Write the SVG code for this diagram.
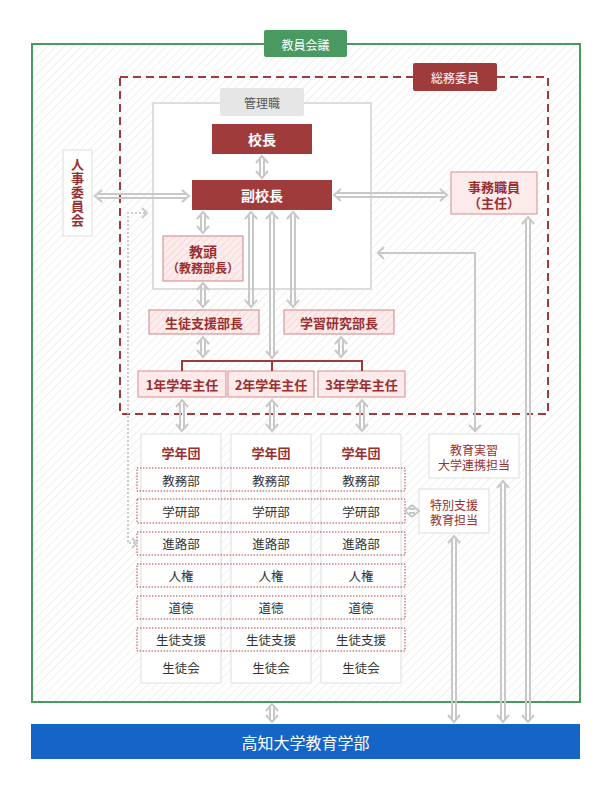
<svg xmlns="http://www.w3.org/2000/svg" width="610" height="790" viewBox="0 0 610 790">
<defs>
<pattern id="hatch" width="6" height="6" patternUnits="userSpaceOnUse" patternTransform="rotate(45)">
<rect width="6" height="6" fill="#ffffff"/>
<line x1="0" y1="0" x2="0" y2="6" stroke="#ededed" stroke-width="1.6"/>
</pattern>
<pattern id="phatch" width="5" height="5" patternUnits="userSpaceOnUse" patternTransform="rotate(45)">
<rect width="5" height="5" fill="#fcecec"/>
<line x1="0" y1="0" x2="0" y2="5" stroke="#f4d2d2" stroke-width="1.5"/>
</pattern>
</defs>
<style>
text{font-family:"Noto Sans CJK JP","Noto Sans",sans-serif;text-anchor:middle;dominant-baseline:central}
.dk{fill:#a03b3b}
.wt{fill:#ffffff}
.pink{fill:#fdeaea;stroke:#d48f8f;stroke-width:1}
.phat{fill:url(#phatch);stroke:#cf8585;stroke-width:1}
.plain{fill:#ffffff;stroke:#dddddd;stroke-width:1}
.dot{fill:none;stroke:#b04444;stroke-width:1;stroke-dasharray:1.5 1.5}
.arr{fill:none;stroke:#c8c8c8;stroke-width:2}
.tw{fill:#ffffff;font-weight:700;font-size:14px}
.tr{fill:#9a2f2f;font-weight:700;font-size:13px}
.tn{fill:#333333;font-size:12.5px}
.tm{fill:#9a2f2f;font-size:12px}
</style>

<g id="kyoin-kaigi">
<rect x="32" y="44" width="548" height="658" fill="url(#hatch)" stroke="#4a9961" stroke-width="2"/>
<rect x="264" y="30" width="83" height="27" rx="2" fill="#4a9961"/>
<text x="305.5" y="44" class="wt" font-size="12">教員会議</text>
</g>

<g id="somu-iin">
<rect x="120" y="77" width="428" height="337" fill="none" stroke="#a03b3b" stroke-width="2" stroke-dasharray="8 5"/>
<rect x="413" y="63" width="84" height="28" rx="2" fill="#a03b3b"/>
<text x="455" y="77" class="wt" font-size="12">総務委員</text>
</g>

<g id="kanrishoku">
<rect x="153" y="103" width="218" height="186" fill="#ffffff" stroke="#dddddd" stroke-width="2"/>
<rect x="220" y="88" width="84" height="28" rx="2" fill="#e6e6e6"/>
<text x="262" y="102" fill="#555555" font-size="12">管理職</text>
</g>

<g id="kocho">
<rect x="212" y="124" width="100" height="30" class="dk"/>
<text x="262" y="139" class="tw">校長</text>
</g>

<g id="fukukocho">
<rect x="192" y="180" width="140" height="30" class="dk"/>
<text x="262" y="195" class="tw">副校長</text>
</g>

<g id="jimu">
<rect x="451" y="172" width="86" height="42" class="pink"/>
<text class="tr"><tspan x="494" y="186">事務職員</tspan><tspan x="494" y="202">（主任）</tspan></text>
</g>

<g id="jinji">
<rect x="63" y="150" width="29" height="86" class="plain"/>
<text x="77.5" y="193" class="tr" style="writing-mode:vertical-rl" letter-spacing="1">人事委員会</text>
</g>

<g id="kyoto">
<rect x="163" y="236" width="80" height="45" class="phat"/>
<text class="tr"><tspan x="203" y="251" font-size="14">教頭</tspan><tspan x="203" y="267" font-size="12">（教務部長）</tspan></text>
</g>

<g id="seito-shien-bucho">
<rect x="149" y="310" width="110" height="24" class="phat"/>
<text x="204" y="322" class="tr">生徒支援部長</text>
</g>

<g id="gakushu-kenkyu-bucho">
<rect x="284" y="310" width="110" height="24" class="phat"/>
<text x="339" y="322" class="tr">学習研究部長</text>
</g>

<g id="shunin1">
<rect x="138" y="371" width="88" height="26" class="pink"/>
<text x="182" y="384" class="tr">1年学年主任</text>
</g>
<g id="shunin2">
<rect x="228" y="371" width="86" height="26" class="pink"/>
<text x="271" y="384" class="tr">2年学年主任</text>
</g>
<g id="shunin3">
<rect x="318" y="371" width="87" height="26" class="pink"/>
<text x="361.5" y="384" class="tr">3年学年主任</text>
</g>

<g id="gakunendan">
<rect x="141" y="434" width="80" height="249" class="plain"/>
<rect x="231" y="434" width="80" height="249" class="plain"/>
<rect x="321" y="434" width="80" height="249" class="plain"/>
<text x="181" y="452" class="tr">学年団</text>
<text x="271" y="452" class="tr">学年団</text>
<text x="361" y="452" class="tr">学年団</text>
</g>

<g id="bukai">
<rect x="137" y="468" width="268" height="23" class="dot"/>
<rect x="137" y="499" width="268" height="24" class="dot"/>
<rect x="137" y="532" width="268" height="23" class="dot"/>
<rect x="137" y="564" width="268" height="23" class="dot"/>
<rect x="137" y="596" width="268" height="23" class="dot"/>
<rect x="137" y="628" width="268" height="23" class="dot"/>
<text x="181" y="480" class="tn">教務部</text><text x="271" y="480" class="tn">教務部</text><text x="361" y="480" class="tn">教務部</text>
<text x="181" y="511" class="tn">学研部</text><text x="271" y="511" class="tn">学研部</text><text x="361" y="511" class="tn">学研部</text>
<text x="181" y="543" class="tn">進路部</text><text x="271" y="543" class="tn">進路部</text><text x="361" y="543" class="tn">進路部</text>
<text x="181" y="575" class="tn">人権</text><text x="271" y="575" class="tn">人権</text><text x="361" y="575" class="tn">人権</text>
<text x="181" y="607" class="tn">道徳</text><text x="271" y="607" class="tn">道徳</text><text x="361" y="607" class="tn">道徳</text>
<text x="181" y="639" class="tn">生徒支援</text><text x="271" y="639" class="tn">生徒支援</text><text x="361" y="639" class="tn">生徒支援</text>
<text x="181" y="667" class="tn">生徒会</text><text x="271" y="667" class="tn">生徒会</text><text x="361" y="667" class="tn">生徒会</text>
</g>

<g id="kyoiku-jisshu">
<rect x="429" y="434" width="90" height="44" class="plain"/>
<text class="tm"><tspan x="474" y="449">教育実習</tspan><tspan x="474" y="464">大学連携担当</tspan></text>
</g>

<g id="tokubetsu-shien">
<rect x="419" y="489" width="70" height="44" class="plain"/>
<text class="tm"><tspan x="454" y="504">特別支援</tspan><tspan x="454" y="519">教育担当</tspan></text>
</g>

<g id="kochi-univ">
<rect x="31" y="724" width="549" height="35" fill="#1565c6"/>
<text x="305.5" y="742" fill="#ffffff" font-size="16">高知大学教育学部</text>
</g>

<g id="connectors">
<path d="M182 371 V361 H362 V371 M272 361 V371" fill="none" stroke="#a03b3b" stroke-width="2"/>
<g class="arr">
<path d="M260 159 V175 M264 159 V175 M256 163 L262 156 L268 163 M256 171 L262 178 L268 171"/>
<path d="M201 215 V230 M205 215 V230 M197 219 L203 212 L209 219 M197 226 L203 233 L209 226"/>
<path d="M249 215 V304 M253 215 V304 M245 219 L251 212 L257 219 M245 300 L251 307 L257 300"/>
<path d="M291 215 V304 M295 215 V304 M287 219 L293 212 L299 219 M287 300 L293 307 L299 300"/>
<path d="M270 215 V355 M274 215 V355 M266 219 L272 212 L278 219 M266 351 L272 358 L278 351"/>
<path d="M201 286 V304 M205 286 V304 M197 290 L203 283 L209 290 M197 300 L203 307 L209 300"/>
<path d="M201 340 V354 M205 340 V354 M197 344 L203 337 L209 344 M197 350 L203 357 L209 350"/>
<path d="M339 340 V354 M343 340 V354 M335 344 L341 337 L347 344 M335 350 L341 357 L347 350"/>
<path d="M180 403 V428 M184 403 V428 M176 407 L182 400 L188 407 M176 424 L182 431 L188 424"/>
<path d="M270 403 V428 M274 403 V428 M266 407 L272 400 L278 407 M266 424 L272 431 L278 424"/>
<path d="M360 403 V428 M364 403 V428 M356 407 L362 400 L368 407 M356 424 L362 431 L368 424"/>
<path d="M526 220 V719 M530 220 V719 M522 224 L528 217 L534 224 M522 715 L528 722 L534 715"/>
<path d="M501 484 V719 M505 484 V719 M497 488 L503 481 L509 488 M497 715 L503 722 L509 715"/>
<path d="M452 539 V719 M456 539 V719 M448 543 L454 536 L460 543 M448 715 L454 722 L460 715"/>
<path d="M270 707 V719 M274 707 V719 M266 711 L272 704 L278 711 M266 715 L272 722 L278 715"/>
<path d="M98 194 H186 M98 198 H186 M102 190 L95 196 L102 202 M182 190 L189 196 L182 202"/>
<path d="M337 193 H444 M337 197 H444 M341 189 L334 195 L341 201 M440 189 L447 195 L440 201"/>
<path d="M409 509 H415 M409 513 H415 M412 505 L405 511 L412 517 M412 505 L419 511 L412 517"/>
<path d="M378 253 H475 V431 M384 247 L378 253 L384 259 M469 425 L475 431 L481 425"/>
</g>
<path d="M145 213 H128 V543 H135" fill="none" stroke="#cccccc" stroke-width="2" stroke-dasharray="2 2"/>
<path d="M142 208 L147 213 L142 218 M132 538 L137 543 L132 548" fill="none" stroke="#cccccc" stroke-width="2"/>
</g>
</svg>
